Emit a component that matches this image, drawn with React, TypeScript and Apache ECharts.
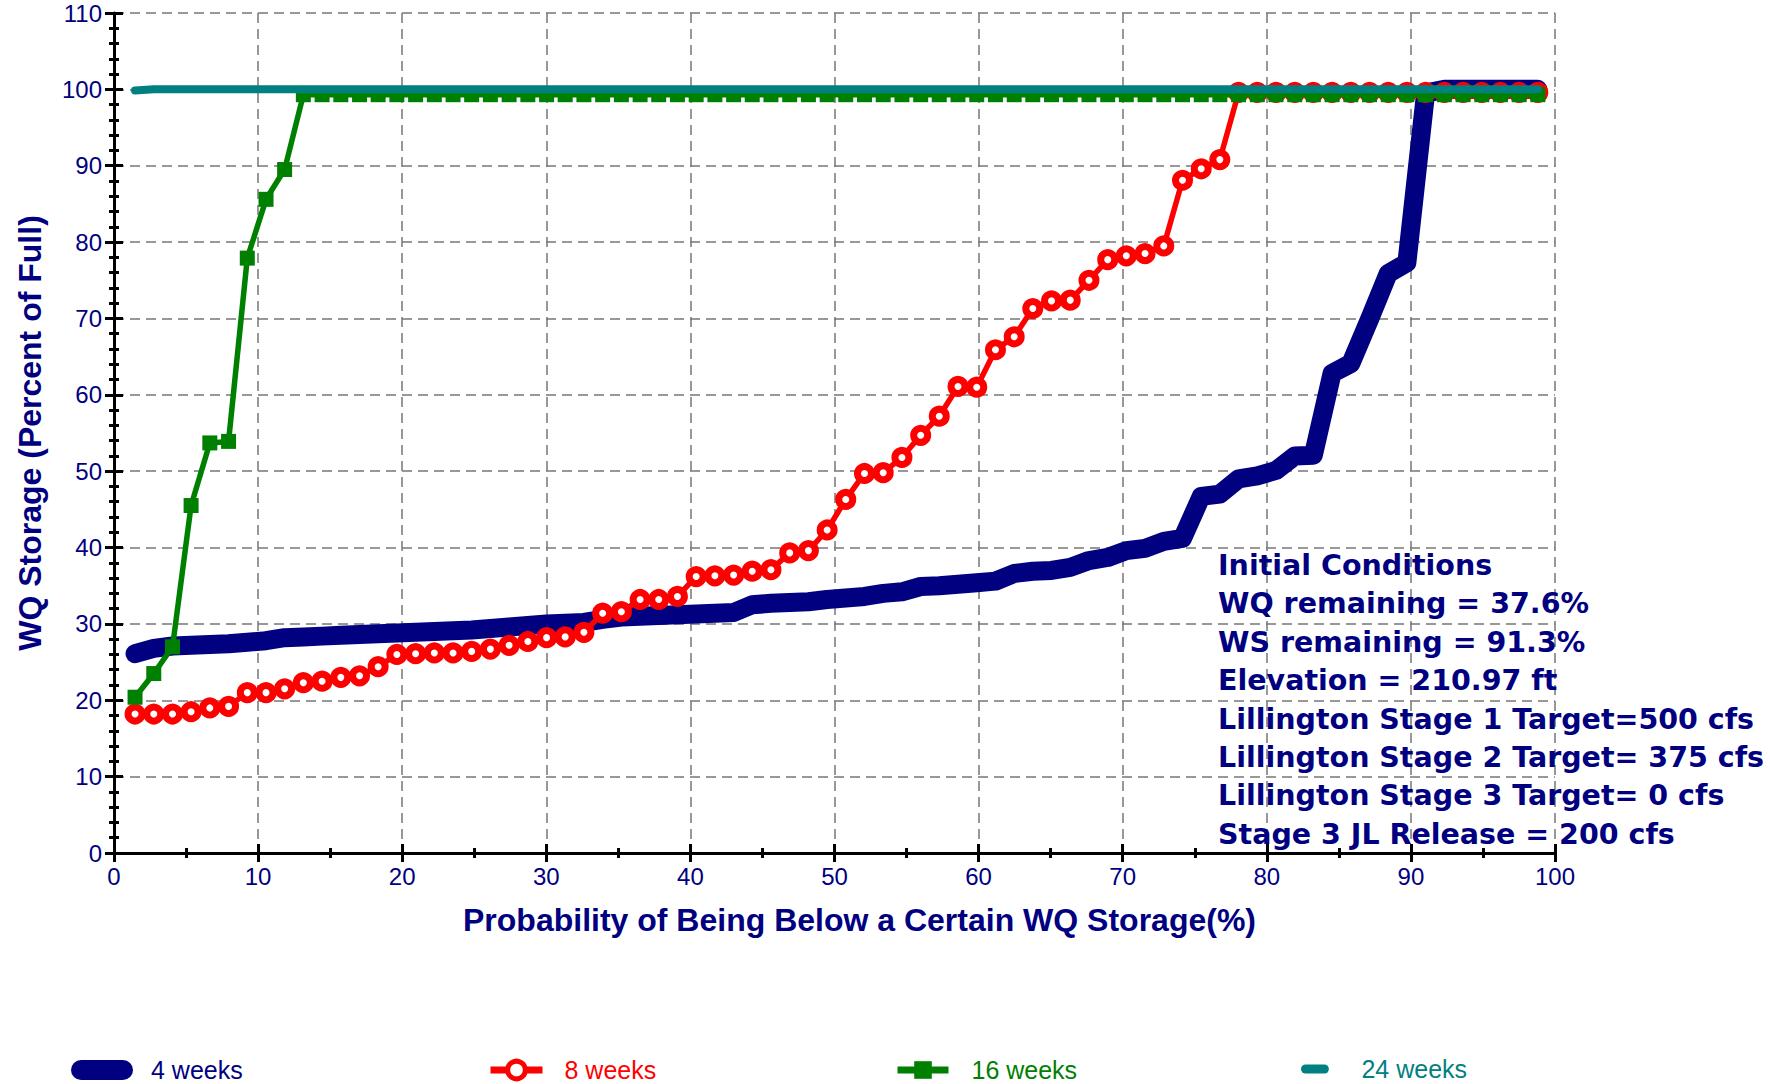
import React, { useEffect, useRef } from "react";
import * as echarts from "echarts";

// Plotting positions (probability, %) shared by all curves
const probX = [
  1.46, 2.76, 4.06, 5.35, 6.65, 7.95, 9.25, 10.55, 11.84, 13.14,
  14.44, 15.74, 17.04, 18.33, 19.63, 20.93, 22.23, 23.53, 24.82, 26.12,
  27.42, 28.72, 30.02, 31.31, 32.61, 33.91, 35.21, 36.51, 37.8, 39.1,
  40.4, 41.7, 43.0, 44.29, 45.59, 46.89, 48.19, 49.49, 50.78, 52.08,
  53.38, 54.68, 55.98, 57.27, 58.57, 59.87, 61.17, 62.47, 63.76, 65.06,
  66.36, 67.66, 68.96, 70.25, 71.55, 72.85, 74.15, 75.45, 76.74, 78.04,
  79.34, 80.64, 81.94, 83.23, 84.53, 85.83, 87.13, 88.43, 89.72, 91.02,
  92.32, 93.62, 94.92, 96.21, 97.51, 98.81,
];

const weeks4 = [
  26.1, 26.8, 27.1, 27.2, 27.3, 27.4, 27.6, 27.8, 28.2, 28.3,
  28.4, 28.5, 28.6, 28.7, 28.8, 28.9, 29.0, 29.1, 29.2, 29.4,
  29.6, 29.8, 30.0, 30.1, 30.2, 30.6, 30.9, 31.0, 31.1, 31.2,
  31.3, 31.4, 31.5, 32.5, 32.7, 32.8, 32.9, 33.2, 33.4, 33.6,
  34.0, 34.2, 34.9, 35.0, 35.2, 35.4, 35.6, 36.6, 36.9, 37.0,
  37.4, 38.3, 38.7, 39.6, 39.9, 40.8, 41.2, 46.7, 47.0, 49.0,
  49.4, 50.1, 52.0, 52.1, 62.8, 64.1, 69.9, 75.9, 77.3, 99.5,
  100, 100, 100, 100, 100, 100,
];

const weeks8 = [
  18.2, 18.2, 18.2, 18.5, 19.0, 19.2, 21.0, 21.0, 21.5, 22.3,
  22.5, 23.0, 23.2, 24.4, 26.0, 26.1, 26.2, 26.2, 26.4, 26.7,
  27.2, 27.7, 28.2, 28.3, 28.9, 31.4, 31.6, 33.2, 33.2, 33.6,
  36.2, 36.3, 36.4, 36.9, 37.1, 39.3, 39.6, 42.3, 46.3, 49.7,
  49.8, 51.8, 54.7, 57.2, 61.1, 61.0, 65.9, 67.6, 71.3, 72.3,
  72.4, 75.0, 77.7, 78.2, 78.5, 79.5, 88.1, 89.6, 90.8, 99.6,
  99.6, 99.6, 99.6, 99.6, 99.6, 99.6, 99.6, 99.6, 99.6, 99.6,
  99.6, 99.6, 99.6, 99.6, 99.6, 99.6,
];

const weeks16 = [
  20.4, 23.5, 27.0, 45.5, 53.7, 53.9, 77.9, 85.6, 89.5, 99.3,
  99.3, 99.3, 99.3, 99.3, 99.3, 99.3, 99.3, 99.3, 99.3, 99.3,
  99.3, 99.3, 99.3, 99.3, 99.3, 99.3, 99.3, 99.3, 99.3, 99.3,
  99.3, 99.3, 99.3, 99.3, 99.3, 99.3, 99.3, 99.3, 99.3, 99.3,
  99.3, 99.3, 99.3, 99.3, 99.3, 99.3, 99.3, 99.3, 99.3, 99.3,
  99.3, 99.3, 99.3, 99.3, 99.3, 99.3, 99.3, 99.3, 99.3, 99.3,
  99.3, 99.3, 99.3, 99.3, 99.3, 99.3, 99.3, 99.3, 99.3, 99.3,
  99.3, 99.3, 99.3, 99.3, 99.3, 99.3,
];

const weeks24 = [
  99.85, 100, 100, 100, 100, 100, 100, 100, 100, 100,
  100, 100, 100, 100, 100, 100, 100, 100, 100, 100,
  100, 100, 100, 100, 100, 100, 100, 100, 100, 100,
  100, 100, 100, 100, 100, 100, 100, 100, 100, 100,
  100, 100, 100, 100, 100, 100, 100, 100, 100, 100,
  100, 100, 100, 100, 100, 100, 100, 100, 100, 100,
  100, 100, 100, 100, 100, 100, 100, 100, 100, 100,
  100, 100, 100, 100, 100, 100,
];

const seriesNames = ["4 weeks", "8 weeks", "16 weeks", "24 weeks"];

const annotationLines = [
  "Initial Conditions",
  "WQ remaining = 37.6%",
  "WS remaining = 91.3%",
  "Elevation = 210.97 ft",
  "Lillington Stage 1 Target=500 cfs",
  "Lillington Stage 2 Target= 375 cfs",
  "Lillington Stage 3 Target= 0 cfs",
  "Stage 3 JL Release = 200 cfs",
];

const xTitle = "Probability of Being Below a Certain WQ Storage(%)";
const yTitle = "WQ Storage (Percent of Full)";

export default function App() {
  const ref = useRef<HTMLDivElement>(null);

  useEffect(() => {
    if (!ref.current) return;
    const chart = echarts.init(ref.current, null, { renderer: "svg" });
    const navy = "#000080";
    const red = "#ff0000";
    const green = "#008000";
    const teal = "#008080";
    const font = "'Liberation Sans', Arial, sans-serif";
    const pair = (ys: number[]) => probX.map((x, i) => [x, ys[i]]);
    const tickStyle = { color: "#000", width: 3 };
    const pill = "path://M10 0 H52 A10 10 0 0 1 52 20 H10 A10 10 0 0 1 10 0 Z";
    const legendText = (color: string, pad: number) => ({
      color,
      fontSize: 25,
      lineHeight: 26,
      fontFamily: font,
      padding: [0, 0, 0, pad],
    });

    const baseX = {
      type: "value",
      min: 0,
      max: 100,
      interval: 10,
      position: "bottom",
      gridIndex: 0,
    };
    const baseY = {
      type: "value",
      min: 0,
      max: 110,
      interval: 10,
      position: "left",
      gridIndex: 0,
    };

    const option: any = {
      animation: false,
      backgroundColor: "#ffffff",
      grid: { left: 114, right: 215, top: 13, bottom: 231, containLabel: false },
      xAxis: [
        {
          ...baseX,
          name: xTitle,
          nameLocation: "middle",
          nameGap: 51,
          nameTextStyle: {
            color: navy,
            fontSize: 32,
            fontWeight: "bold",
            fontFamily: font,
            padding: [0, 0, 0, 50],
          },
          axisLine: { show: true, onZero: false, lineStyle: { color: "#000", width: 3 } },
          axisTick: { show: true, inside: false, length: 9, lineStyle: tickStyle },
          minorTick: { show: true, splitNumber: 2, length: 5, lineStyle: tickStyle },
          axisLabel: { color: navy, fontSize: 24, fontFamily: font, margin: 11 },
          splitLine: { show: true, lineStyle: { color: "#777777", width: 1.5, type: [10, 6] } },
        },
        {
          ...baseX,
          axisLine: { show: false },
          axisTick: { show: true, inside: true, length: 9, lineStyle: tickStyle },
          minorTick: { show: true, splitNumber: 2, length: 5, lineStyle: tickStyle },
          axisLabel: { show: false },
          splitLine: { show: false },
        },
      ],
      yAxis: [
        {
          ...baseY,
          name: yTitle,
          nameLocation: "middle",
          nameGap: 68,
          nameTextStyle: { color: navy, fontSize: 32, fontWeight: "bold", fontFamily: font },
          axisLine: { show: true, onZero: false, lineStyle: { color: "#000", width: 3 } },
          axisTick: { show: true, inside: false, length: 9, lineStyle: tickStyle },
          minorTick: { show: true, splitNumber: 5, length: 5, lineStyle: tickStyle },
          axisLabel: { color: navy, fontSize: 24, fontFamily: font, margin: 12 },
          splitLine: { show: true, lineStyle: { color: "#777777", width: 1.5, type: [10, 6] } },
        },
        {
          ...baseY,
          axisLine: { show: false },
          axisTick: { show: true, inside: true, length: 9, lineStyle: tickStyle },
          minorTick: { show: true, splitNumber: 5, length: 5, lineStyle: tickStyle },
          axisLabel: { show: false },
          splitLine: { show: false },
        },
      ],
      legend: [
        {
          left: 66,
          top: 1052,
          itemWidth: 62,
          itemHeight: 20,
          selectedMode: false,
          data: [{ name: seriesNames[0], icon: pill }],
          itemStyle: { color: navy },
          textStyle: legendText(navy, 13),
        },
        {
          left: 482,
          top: 1052,
          itemWidth: 52,
          itemHeight: 22,
          selectedMode: false,
          data: [seriesNames[1]],
          lineStyle: { width: 7, color: red },
          itemStyle: { color: "#ffffff", borderColor: red, borderWidth: 5 },
          textStyle: legendText(red, 17),
        },
        {
          left: 889,
          top: 1052,
          itemWidth: 51,
          itemHeight: 22,
          selectedMode: false,
          data: [seriesNames[2]],
          lineStyle: { width: 7, color: green },
          itemStyle: { color: green, borderWidth: 0 },
          textStyle: legendText(green, 18),
        },
        {
          left: 1296,
          top: 1051,
          itemWidth: 53,
          itemHeight: 9,
          selectedMode: false,
          data: [{ name: seriesNames[3], icon: pill }],
          itemStyle: { color: teal },
          textStyle: legendText(teal, 15),
        },
      ],
      graphic: [
        {
          type: "text",
          x: 1218,
          y: 546.3,
          z: 50,
          style: {
            text: annotationLines.join("\n"),
            fill: navy,
            fontSize: 28.5,
            fontWeight: "bold",
            fontFamily: "'DejaVu Sans', Verdana, sans-serif",
            lineHeight: 38.4,
            align: "left",
            verticalAlign: "top",
          },
        },
      ],
      series: [
        {
          name: seriesNames[0],
          type: "line",
          xAxisIndex: 0,
          yAxisIndex: 0,
          z: 1,
          data: pair(weeks4),
          showSymbol: false,
          symbol: "none",
          lineStyle: { color: navy, width: 19, cap: "round", join: "round" },
          itemStyle: { color: navy },
          emphasis: { disabled: true },
        },
        {
          name: seriesNames[1],
          type: "line",
          xAxisIndex: 0,
          yAxisIndex: 0,
          z: 2,
          data: pair(weeks8),
          symbol: "circle",
          symbolSize: 14,
          lineStyle: { color: red, width: 5.5 },
          itemStyle: { color: "#ffffff", borderColor: red, borderWidth: 7 },
          emphasis: { disabled: true },
        },
        {
          name: seriesNames[2],
          type: "line",
          xAxisIndex: 0,
          yAxisIndex: 0,
          z: 3,
          data: pair(weeks16),
          symbol: "rect",
          symbolSize: 15,
          lineStyle: { color: green, width: 5.5 },
          itemStyle: { color: green },
          emphasis: { disabled: true },
        },
        {
          name: seriesNames[3],
          type: "line",
          xAxisIndex: 0,
          yAxisIndex: 0,
          z: 4,
          data: pair(weeks24),
          showSymbol: false,
          symbol: "none",
          lineStyle: { color: teal, width: 8, cap: "round", join: "round" },
          itemStyle: { color: teal },
          emphasis: { disabled: true },
        },
      ],
    };

    chart.setOption(option);
    return () => {
      chart.dispose();
    };
  }, []);

  return (
    <div
      ref={ref}
      style={{
        position: "fixed",
        left: 0,
        top: 0,
        width: 1770,
        height: 1084,
        background: "#ffffff",
      }}
    />
  );
}
